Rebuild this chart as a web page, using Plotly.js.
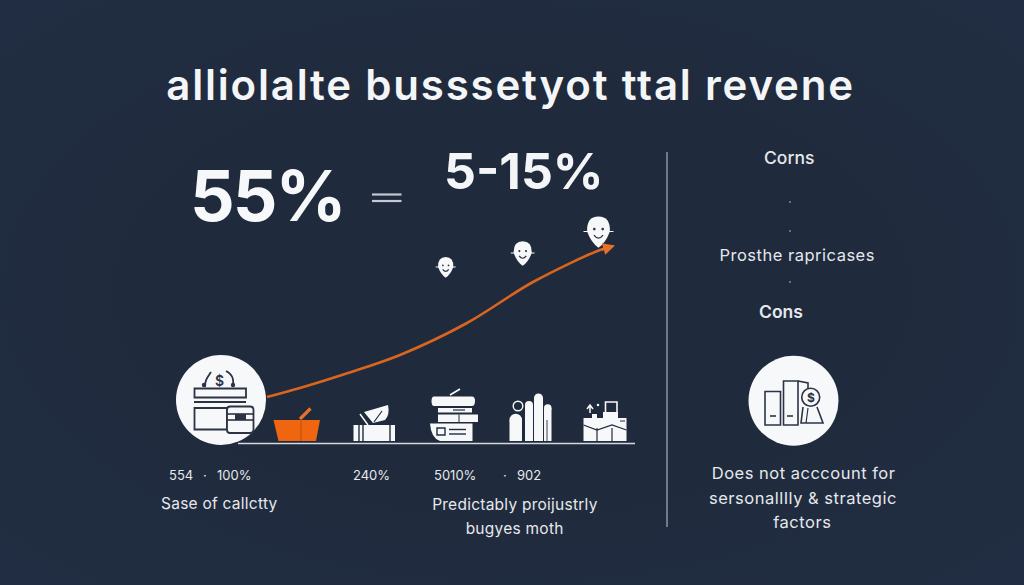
<!DOCTYPE html>
<html><head><meta charset="utf-8">
<script src="https://cdn.plot.ly/plotly-3.0.1.min.js"></script>
<style>html,body{margin:0;padding:0;background:radial-gradient(ellipse at 50% 50%,#1f2a3c 40%,#212d42 100%)}#c{width:1024px;height:585px}
.annotation[data-index="0"] text{letter-spacing:1.8px}
.annotation[data-index="4"] text,.annotation[data-index="6"] text,.annotation[data-index="7"] text,.annotation[data-index="8"] text{letter-spacing:.5px}
.annotation[data-index="9"] text,.annotation[data-index="10"] text,.annotation[data-index="11"] text{letter-spacing:.25px}
.annotation[data-index="1"] text{letter-spacing:-2px}
</style>
</head><body><div id="c"></div>
<script>
// Growth curve
const curveX = [267,300,345,400,467,533,600,608];
const curveY = [397,388,374,355,323,282,250,248];
// Texts
const titleText = 'alliolalte busssetyot ttal revene';
const bigLeft = '55%';
const bigRight = '5-15%';
const sideHeads = ['Corns','Cons'];
const sideBody = 'Prosthe rapricases';
const sideNote = ['Does not acccount for','sersonallIly &amp; strategic','factors'];
const tickLabels = ['554','·','100%','240%','5010%','·','902'];
const tickX = [181,205,234,371,455,505,529];
const captionLeft = 'Sase of callctty';
const captionRight = ['Predictably proijustrly','bugyes moth'];

const BG='#202b3e', W='#f7f8f9', DK='#2b3345', OR='#f0650f', TXT='#e6e8ec';
const shapes=[];
const S=(o)=>shapes.push(Object.assign({xref:'x',yref:'y',layer:'above'},o));
const box=(x0,y0,x1,y1,fill,lc,lw)=>S({type:'rect',x0,y0,x1,y1,fillcolor:fill,line:{color:lc||fill,width:lc?(lw||1.5):0}});
const ln=(x0,y0,x1,y1,c,w)=>S({type:'line',x0,y0,x1,y1,line:{color:c,width:w||1.5}});
const circ=(cx,cy,r,fill,lc,lw,ry)=>S({type:'circle',x0:cx-r,x1:cx+r,y0:cy-(ry||r),y1:cy+(ry||r),fillcolor:fill,line:{color:lc||fill,width:lc?(lw||1.5):0}});
const path=(d,fill,lc,lw)=>S({type:'path',path:d,fillcolor:fill||'rgba(0,0,0,0)',line:{color:lc||fill,width:lc?(lw||1.5):0}});

// divider, equals sign, baseline, small dots
ln(667,152,667,527,'#a9afba',1.2);
ln(372,194.5,401.5,194.5,'#c3c8d1',2.2); ln(372,201,401.5,201,'#c3c8d1',2.2);
ln(238,443.5,635,443.5,'#d5d8de',1.6);
[202,231,282].forEach(y=>circ(790,y,0.8,'#c9ccd3'));

// big left circle icon
circ(221,400,45,W);
box(194.5,388.5,246,397.5,W,DK,1.8);
ln(194,402,246,402,DK,1.8);
box(194.5,408,227,429.5,W,DK,1.8);
path('M205,387 C205,380 207,378 211,372',null,DK,1.8);
path('M233,387 C234,378 232,374 226,371',null,DK,1.8);
circ(204,385,2.2,DK); circ(233,385,2.2,DK);
path('M227,410 Q227,406.5 230,406.5 L250,406.5 Q253.5,406.5 253.5,410 L253.5,430 Q253.5,433 250,433 L230,433 Q227,433 227,430 Z',W,DK,1.8);
ln(227,414,253.5,414,DK,1.6); ln(227,420,253.5,420,DK,1.6); box(235,414,246,420,DK);

// basket
path('M273.5,420 L320,420 L316,441 L278.5,441 Z',OR);
ln(300,419,310.5,408.5,'#e8702a',3.2);
ln(301,420,301,441,'#b8500f',1);

// leaf parcel
box(353.5,425,395,441,W);
ln(359,425,359,441,BG,1.4); ln(363,425,363,441,BG,1.4); ln(390,425,390,441,BG,1.4);
path('M364,412 L388,405 Q390,415 385,420 L373,423 Z',W);
ln(360,414,368,425,W,1.5); ln(374,422,382,411,BG,1.2);

// books
path('M434,396.5 L472,396.5 Q475,396.5 475,401 Q475,406 472,406 L434,406 Q431.5,406 431.5,401 Q431.5,396.5 434,396.5 Z',W);
ln(450,395,460,389,W,1.8);
box(438,408,472,412.5,W); ln(453,410,465,410,BG,1.2);
box(438,414.5,478,422,W); ln(459,414.5,459,422,BG,1);
path('M430,423.5 L472.5,423.5 L472.5,441 L440,441 Q431,438 430,423.5 Z',W);
box(437,428,445,435,W,BG,1.4); ln(449,429.5,466,429.5,BG,1.4); ln(449,434,466,434,BG,1.4);

// columns
[[509.5,420,522],[525,405,533],[534,398,543],[544,408,551.5]].forEach(b=>{
  box(b[0],b[1],b[2],441,W); circ((b[0]+b[2])/2,b[1],(b[2]-b[0])/2,W);
});
circ(518,406,4.8,BG,W,1.4);
ln(547,420,547,441,BG,0.9);

// boxes
box(583.5,418,626.5,441,W);
ln(597,428,597,441,BG,1.2); ln(612,428,612,441,BG,1.2);
path('M583.5,425 L597,430 L612,425 L626.5,430',null,BG,1.2);
box(605.5,402,617,413,BG,W,1.6);
box(603,412,618,424,W); box(592,414,597,422,W);
path('M590,413 L590,406 M587,409 L590,405 L593,409',null,W,1.5);
circ(598,405,1.3,W); ln(620,421,625,421,BG,1);

// smiley pins
[[445.7,267,8],[522.7,253,9.5],[598.5,231.5,12]].forEach(p=>{
  const [x,y,r]=p;
  path(`M${x-r*.95},${y} Q${x-r},${y-r*1.25} ${x},${y-r*1.25} Q${x+r},${y-r*1.25} ${x+r*.95},${y} Q${x+r*.6},${y+r*.95} ${x},${y+r*1.35} Q${x-r*.6},${y+r*.95} ${x-r*.95},${y} Z`,W);
  ln(x-r*1.25,y,x+r*1.25,y,W,1);
  circ(x-r*.35,y-r*.2,r*.11,DK); circ(x+r*.35,y-r*.2,r*.11,DK);
  path(`M${x-r*.38},${y+r*.3} Q${x},${y+r*.8} ${x+r*.38},${y+r*.3}`,null,DK,1.2);
});

// right circle icon
circ(793.5,400.7,45,W);
box(765,391.5,780.5,425,W,DK,1.6); ln(770,416,776,416,DK,1.6);
box(783.5,381,798,425,W,DK,1.6); ln(787,416,793,416,DK,1.6);
path('M798,381 L808,383 L808,390',null,DK,1.6);
path('M803,407 L801,423 L823,423 L817,407',null,DK,1.6);
ln(808,408,806,423,DK,1.2);
circ(810.7,397.3,9,W,DK,1.6);

const A=(text,x,y,size,weight,color,extra)=>Object.assign({text,x,y,xref:'x',yref:'y',showarrow:false,xanchor:'center',yanchor:'middle',
  font:{family:'Inter, "Open Sans", sans-serif',size,weight:weight||400,color:color||TXT}},extra||{});
const ann=[
  A(titleText,510,84,42,600,'#f4f5f7'),
  A(bigLeft,267,195,70,700,'#f7f8f9'),
  A(bigRight,524,171,50,700,'#f4f5f7'),
  A(sideHeads[0],789,157,17.5,500),
  A(sideBody,797,255,16.5,400),
  A(sideHeads[1],781,311,17.5,600),
  A(sideNote[0],803,473,16.5,400),
  A(sideNote[1],803,498,16.5,400),
  A(sideNote[2],802,522,16.5,400),
  A(captionLeft,219.5,503,15.5,400),
  A(captionRight[0],515,504,15.5,400),
  A(captionRight[1],514,528,15.5,400),
  A('$',219,380,14,600,DK),
  A('$',810.7,397.5,12,700,DK),
  // arrow head on the curve
  {x:curveX[curveX.length-1]+7,y:curveY[curveY.length-1]-2.5,ax:curveX[curveX.length-2],ay:curveY[curveY.length-2],
   xref:'x',yref:'y',axref:'x',ayref:'y',text:'',showarrow:true,arrowhead:2,arrowsize:1,arrowwidth:2.4,arrowcolor:'#e8702a',standoff:0}
];
tickLabels.forEach((t,i)=>ann.push(A(t,tickX[i],475,13,400)));

const hidden={visible:false,fixedrange:true,showgrid:false,zeroline:false};
Plotly.newPlot('c',[{x:curveX,y:curveY,type:'scatter',mode:'lines',line:{color:'#d9661f',width:2.6,shape:'spline',smoothing:1},hoverinfo:'skip'}],{
  width:1024,height:585,margin:{l:0,r:0,t:0,b:0},
  paper_bgcolor:'rgba(0,0,0,0)',plot_bgcolor:'rgba(0,0,0,0)',showlegend:false,
  xaxis:Object.assign({range:[0,1024]},hidden),
  yaxis:Object.assign({range:[585,0]},hidden),
  shapes:shapes,annotations:ann
},{displayModeBar:false,staticPlot:true});
</script></body></html>
